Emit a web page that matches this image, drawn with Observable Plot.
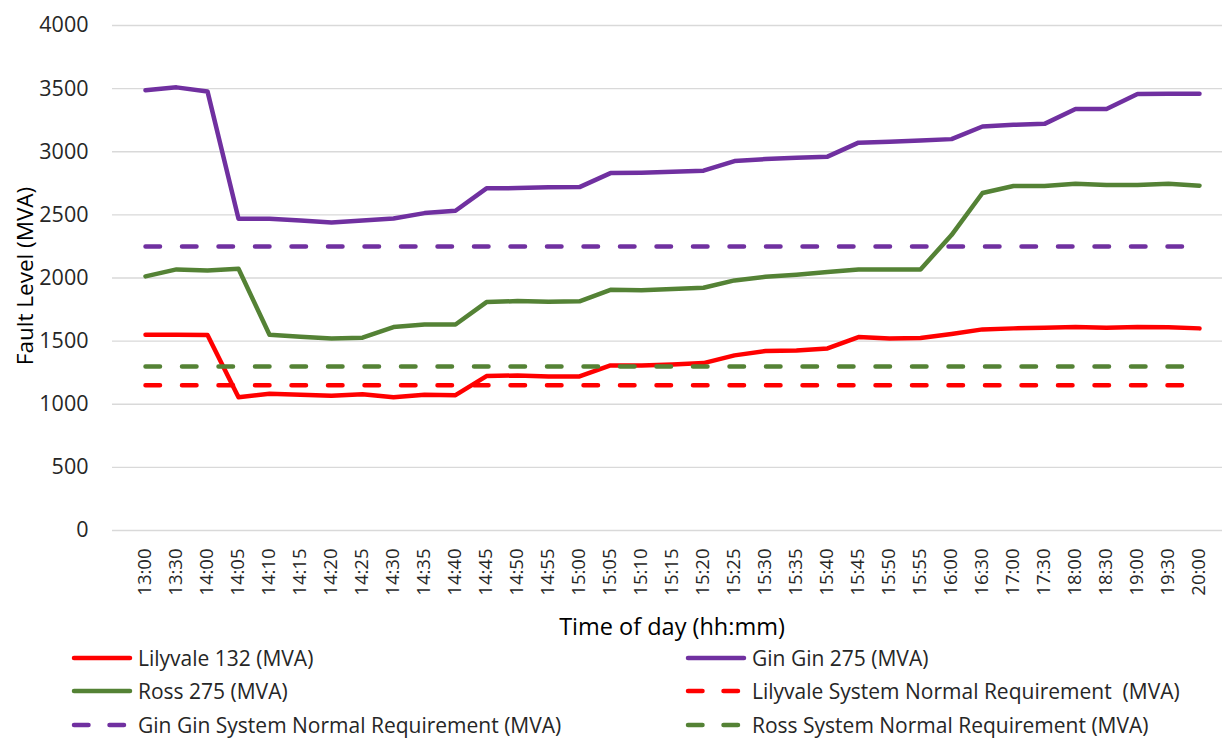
<!DOCTYPE html>
<html>
<head>
<meta charset="utf-8">
<script src="https://cdn.jsdelivr.net/npm/d3@7"></script>
<script src="https://cdn.jsdelivr.net/npm/@observablehq/plot@0.6"></script>
<style>
  html, body { margin: 0; padding: 0; background: #fff; }
  body { width: 1222px; height: 738px; position: relative; overflow: hidden; font-family: "Open Sans", sans-serif; }
  #chart { position: absolute; left: 0; top: 0; }
  #legend { position: absolute; left: 0; top: 641px; width: 1222px; font-family: "Open Sans", sans-serif; font-size: 21px; color: #262626; }
  .row { position: relative; height: 33.5px; }
  .item { position: absolute; top: 0; height: 33.5px; display: flex; align-items: center; white-space: pre; }
  .item svg { margin-right: 4px; }
</style>
</head>
<body>
<div id="chart"></div>
<div id="legend"></div>
<script>
const times = ["13:00","13:30","14:00","14:05","14:10","14:15","14:20","14:25","14:30","14:35","14:40","14:45","14:50","14:55","15:00","15:05","15:10","15:15","15:20","15:25","15:30","15:35","15:40","15:45","15:50","15:55","16:00","16:30","17:00","17:30","18:00","18:30","19:00","19:30","20:00"];

const lilyvale132 = [1550,1550,1548,1056,1083,1075,1067,1080,1056,1075,1072,1223,1228,1220,1220,1307,1307,1315,1326,1387,1421,1426,1442,1532,1521,1524,1556,1593,1601,1606,1611,1606,1611,1609,1601];
const ginGin275 = [3487,3510,3478,2470,2470,2456,2440,2456,2472,2514,2533,2710,2712,2718,2720,2831,2834,2842,2850,2926,2942,2953,2961,3072,3080,3090,3100,3200,3213,3221,3338,3338,3457,3460,3460];
const ross275 = [2013,2068,2060,2073,1550,1535,1521,1527,1611,1632,1632,1809,1817,1812,1815,1906,1903,1912,1923,1981,2010,2026,2047,2068,2068,2068,2340,2673,2729,2729,2747,2736,2736,2747,2731];

const lilyvaleReq = 1150;
const ginGinReq = 2250;
const rossReq = 1300;

const yTicks = [0,500,1000,1500,2000,2500,3000,3500,4000];

const seriesNames = ["Lilyvale 132 (MVA)","Gin Gin 275 (MVA)","Ross 275 (MVA)","Lilyvale System Normal Requirement  (MVA)","Gin Gin System Normal Requirement (MVA)","Ross System Normal Requirement (MVA)"];
const seriesColors = ["#FF0000","#7030A0","#548235","#FF0000","#7030A0","#548235"];
const seriesDashed = [false,false,false,true,true,true];

const solidValues = [lilyvale132, ginGin275, ross275];
const reqValues = [lilyvaleReq, ginGinReq, rossReq];

const solidData = solidValues.flatMap((vals, s) => times.map((t, i) => ({time: t, value: vals[i], series: seriesNames[s]})));
const reqData = reqValues.flatMap((v, s) => times.map(t => ({time: t, value: v, series: seriesNames[s + 3]})));

const chart = Plot.plot({
  width: 1222,
  height: 645,
  marginTop: 25,
  marginBottom: 115,
  marginLeft: 130,
  marginRight: 9,
  style: {fontFamily: "Open Sans, sans-serif", background: "#fff", color: "#262626"},
  x: {type: "point", domain: times, padding: 0, label: null},
  y: {domain: [0, 4000], label: null},
  color: {domain: seriesNames, range: seriesColors},
  marks: [
    Plot.gridY(yTicks, {stroke: "#d9d9d9", strokeOpacity: 1, strokeWidth: 1.3, insetLeft: -18, insetRight: -9}),
    Plot.axisY({ticks: yTicks, tickSize: 0, tickPadding: 42, fontSize: 21.5, label: null, tickFormat: d => String(d)}),
    Plot.axisX({tickSize: 0, tickPadding: 18, tickRotate: -90, fontSize: 18.5, label: null}),
    Plot.line(solidData, {x: "time", y: "value", z: "series", stroke: "series", strokeWidth: 4.5, strokeLinejoin: "round", strokeLinecap: "round"}),
    Plot.line(reqData, {x: "time", y: "value", z: "series", stroke: "series", strokeWidth: 4.5, strokeLinecap: "round", strokeDasharray: "14.5,22"}),
    Plot.text(["Fault Level (MVA)"], {frameAnchor: "left", rotate: -90, dx: -105, dy: -2, fontSize: 22.5, fill: "#000", textAnchor: "middle", lineAnchor: "middle"}),
    Plot.text(["Time of day (hh:mm)"], {frameAnchor: "bottom", dy: 96.5, fontSize: 23.5, fill: "#000", textAnchor: "middle", lineAnchor: "middle"})
  ]
});
document.getElementById("chart").appendChild(chart);

// Legend
const legend = document.getElementById("legend");
const colLeft = [70, 684];
for (let r = 0; r < 3; r++) {
  const row = document.createElement("div");
  row.className = "row";
  for (let c = 0; c < 2; c++) {
    const k = r * 2 + c;
    const item = document.createElement("div");
    item.className = "item";
    item.style.left = colLeft[c] + "px";
    const ns = "http://www.w3.org/2000/svg";
    const svg = document.createElementNS(ns, "svg");
    svg.setAttribute("width", 64);
    svg.setAttribute("height", 12);
    const ln = document.createElementNS(ns, "line");
    ln.setAttribute("x1", 4); ln.setAttribute("x2", 60);
    ln.setAttribute("y1", 6); ln.setAttribute("y2", 6);
    ln.setAttribute("stroke", seriesColors[k]);
    ln.setAttribute("stroke-width", 4.5);
    ln.setAttribute("stroke-linecap", "round");
    if (seriesDashed[k]) { ln.setAttribute("stroke-dasharray", "14.5,21"); }
    svg.appendChild(ln);
    item.appendChild(svg);
    const span = document.createElement("span");
    span.textContent = seriesNames[k];
    item.appendChild(span);
    row.appendChild(item);
  }
  legend.appendChild(row);
}
</script>
</body>
</html>
